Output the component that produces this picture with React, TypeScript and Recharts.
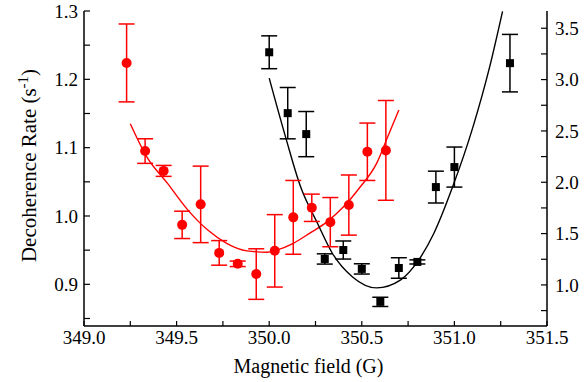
import {
  ComposedChart,
  Line,
  Scatter,
  ErrorBar,
  XAxis,
  YAxis,
} from "recharts";

// red: left axis, black: right axis
const redX = [349.23, 349.33, 349.43, 349.53, 349.63, 349.73, 349.83, 349.93, 350.03, 350.13, 350.23, 350.33, 350.43, 350.53, 350.63];
const redY = [1.224, 1.095, 1.066, 0.987, 1.017, 0.946, 0.93, 0.915, 0.949, 0.998, 1.012, 0.991, 1.016, 1.094, 1.096];
const redErr = [0.057, 0.018, 0.008, 0.02, 0.056, 0.018, 0.004, 0.037, 0.053, 0.054, 0.02, 0.036, 0.044, 0.042, 0.073];

const redFitX = [349.25, 349.34, 349.45, 349.56, 349.67, 349.77, 349.88, 349.99, 350.04, 350.13, 350.22, 350.31, 350.4, 350.49, 350.58, 350.64, 350.7];
const redFitY = [1.135, 1.086, 1.048, 1.009, 0.979, 0.96, 0.949, 0.947, 0.95, 0.96, 0.975, 0.991, 1.013, 1.042, 1.077, 1.116, 1.155];

const blackX = [350.0, 350.1, 350.2, 350.3, 350.4, 350.5, 350.6, 350.7, 350.8, 350.9, 351.0, 351.3];
const blackY = [3.266, 2.673, 2.469, 1.253, 1.34, 1.156, 0.835, 1.165, 1.224, 1.953, 2.148, 3.16];
const blackErr = [0.16, 0.25, 0.22, 0.05, 0.088, 0.05, 0.045, 0.1, 0.02, 0.155, 0.195, 0.28];

const blackFitX = [350.0, 350.09, 350.17, 350.26, 350.34, 350.45, 350.58, 350.71, 350.8, 350.89, 350.99, 351.1, 351.19, 351.26];
const blackFitY = [3.014, 2.43, 1.953, 1.603, 1.311, 1.078, 0.971, 1.049, 1.224, 1.506, 1.953, 2.537, 3.121, 3.665];

const xTicks = [349, 349.25, 349.5, 349.75, 350, 350.25, 350.5, 350.75, 351, 351.25, 351.5];
const leftTicks = [0.85, 0.9, 0.95, 1.0, 1.05, 1.1, 1.15, 1.2, 1.25, 1.3];
const rightTicks = [0.75, 1.0, 1.25, 1.5, 1.75, 2.0, 2.25, 2.5, 2.75, 3.0, 3.25, 3.5];

const redPts = redX.map((x, i) => ({ x, y: redY[i], err: redErr[i] }));
const redFit = redFitX.map((x, i) => ({ x, y: redFitY[i] }));
const blackPts = blackX.map((x, i) => ({ x, y: blackY[i], err: blackErr[i] }));
const blackFit = blackFitX.map((x, i) => ({ x, y: blackFitY[i] }));

const FONT = "Liberation Serif";

// only label the "round" ticks, draw text ourselves so the serif font sticks
const makeTick = (step: number, dy: string) => (p: any) => {
  const v = p.payload.value;
  if (Math.abs(v / step - Math.round(v / step)) > 1e-6) return <g />;
  return (
    <text
      x={p.x}
      y={p.y}
      dy={dy}
      textAnchor={p.textAnchor}
      fontFamily={FONT}
      fontSize={19}
      fill="#000"
    >
      {v.toFixed(1)}
    </text>
  );
};

const RedDot = (p: any) => <circle cx={p.cx} cy={p.cy} r={5} fill="#ff0000" />;
const BlackSquare = (p: any) => (
  <rect x={p.cx - 4} y={p.cy - 4} width={8} height={8} fill="#000" />
);

const axisLine = { stroke: "#000", strokeWidth: 1.5 };
const tickLine = { stroke: "#000", strokeWidth: 1.2 };

export default function App() {
  return (
    <div style={{ position: "absolute", left: 0, top: 0, background: "#fff" }}>
      <ComposedChart width={585} height={382} margin={{ top: 11, right: 0, bottom: 0, left: 0 }}>
        <XAxis
          xAxisId="bottom"
          dataKey="x"
          type="number"
          domain={[349, 351.5]}
          ticks={xTicks}
          interval={0}
          height={56}
          tickSize={-5}
          tickMargin={10}
          tick={makeTick(0.5, "0.71em")}
          axisLine={axisLine}
          tickLine={tickLine}
          label={({ viewBox }: any) => (
            <text
              x={viewBox.x + viewBox.width / 2 - 7}
              y={viewBox.y + viewBox.height - 9}
              textAnchor="middle"
              fontSize={20}
              fontFamily={FONT}
              fill="#000"
            >
              Magnetic field (G)
            </text>
          )}
        />
        <XAxis
          xAxisId="top"
          orientation="top"
          dataKey="x"
          type="number"
          domain={[349, 351.5]}
          ticks={xTicks}
          interval={0}
          height={0}
          tick={false}
          tickSize={-4}
          axisLine={axisLine}
          tickLine={tickLine}
        />
        <YAxis
          yAxisId="left"
          type="number"
          domain={[0.839, 1.3]}
          ticks={leftTicks}
          interval={0}
          width={84}
          tickSize={-6}
          tickMargin={12}
          tick={makeTick(0.1, "0.35em")}
          axisLine={axisLine}
          tickLine={tickLine}
          allowDataOverflow
          label={({ viewBox }: any) => (
            <text
              transform={`translate(36, ${viewBox.y + viewBox.height / 2 - 3}) rotate(-90)`}
              textAnchor="middle"
              fontSize={21}
              fontFamily={FONT}
              fill="#000"
            >
              Decoherence Rate (s
              <tspan dy={-8} fontSize={15}>-1</tspan>
              <tspan dy={8}>)</tspan>
            </text>
          )}
        />
        <YAxis
          yAxisId="right"
          orientation="right"
          type="number"
          domain={[0.6, 3.668]}
          ticks={rightTicks}
          interval={0}
          width={38}
          tickSize={-6}
          tickMargin={14}
          tick={makeTick(0.5, "0.35em")}
          axisLine={axisLine}
          tickLine={tickLine}
          allowDataOverflow
        />

        <Line
          data={redFit}
          dataKey="y"
          xAxisId="bottom"
          yAxisId="left"
          type="monotone"
          stroke="#ff0000"
          strokeWidth={1.4}
          dot={false}
          activeDot={false}
          isAnimationActive={false}
        />
        <Line
          data={blackFit}
          dataKey="y"
          xAxisId="bottom"
          yAxisId="right"
          type="monotone"
          stroke="#000"
          strokeWidth={1.4}
          dot={false}
          activeDot={false}
          isAnimationActive={false}
        />
        <Scatter
          data={redPts}
          dataKey="y"
          xAxisId="bottom"
          yAxisId="left"
          fill="#ff0000"
          shape={RedDot}
          isAnimationActive={false}
        >
          <ErrorBar dataKey="err" direction="y" width={8} stroke="#ff0000" strokeWidth={1.5} />
        </Scatter>
        <Scatter
          data={blackPts}
          dataKey="y"
          xAxisId="bottom"
          yAxisId="right"
          fill="#000"
          shape={BlackSquare}
          isAnimationActive={false}
        >
          <ErrorBar dataKey="err" direction="y" width={8} stroke="#000" strokeWidth={1.5} />
        </Scatter>
      </ComposedChart>
    </div>
  );
}
